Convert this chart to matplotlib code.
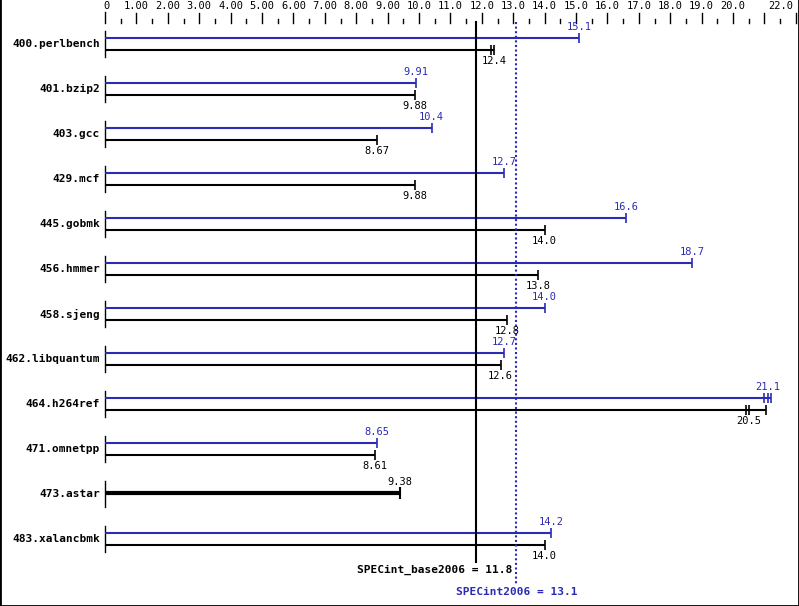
import numpy as np
import matplotlib
matplotlib.use('Agg')
import matplotlib.pyplot as plt

# Benchmarks and ratios (peak = blue, base = black)
benchmarks = ['400.perlbench', '401.bzip2', '403.gcc', '429.mcf', '445.gobmk',
              '456.hmmer', '458.sjeng', '462.libquantum', '464.h264ref',
              '471.omnetpp', '473.astar', '483.xalancbmk']
peak = [15.1, 9.91, 10.4, 12.7, 16.6, 18.7, 14.0, 12.7, 21.1, 8.65, None, 14.2]
base = [12.4, 9.88, 8.67, 9.88, 14.0, 13.8, 12.8, 12.6, 20.5, 8.61, 9.38, 14.0]
peak_labels = ['15.1', '9.91', '10.4', '12.7', '16.6', '18.7', '14.0', '12.7', '21.1', '8.65', '', '14.2']
base_labels = ['12.4', '9.88', '8.67', '9.88', '14.0', '13.8', '12.8', '12.6', '20.5', '8.61', '9.38', '14.0']
# other run results shown as extra ticks
peak_runs = {'464.h264ref': [21.0, 21.2]}
base_runs = {'400.perlbench': [12.3], '464.h264ref': [20.4, 21.05]}

base_mean = 11.8
peak_mean = 13.1

tick_vals = list(range(0, 21)) + [22]
tick_labels = ['0'] + ['%.2f' % v for v in range(1, 10)] + ['%.1f' % v for v in range(10, 21)] + ['22.0']

BLUE = '#2b2bb3'
W, H = 799, 606
X0 = 105          # pixel of value 0
PPU = 31.4        # pixels per unit

fig = plt.figure(figsize=(W / 100, H / 100), dpi=100)
ax = fig.add_axes([0, 0, 1, 1])
ax.set_xlim(-X0 / PPU, (W - X0) / PPU)
ax.set_ylim(H, 0)
ax.set_xticks([])
ax.set_yticks([])
for s in ['left', 'right', 'bottom']:
    ax.spines[s].set_linewidth(2)
ax.spines['top'].set_visible(False)

mono = 'DejaVu Sans Mono'
fs = 7.5

# top scale
for v in np.arange(0, 22.01, 0.5):
    if float(v).is_integer():
        top = 13 if v > 0 else 12
        ax.plot([v, v], [top, 23], color='black', lw=1)
    else:
        ax.plot([v, v], [19, 23], color='black', lw=1)
for v, lab in zip(tick_vals, tick_labels):
    if v == 22:
        ax.text(v - 3 / PPU, 6, lab, ha='right', va='center', fontsize=fs, family=mono)
    elif v == 0:
        ax.text(v + 1 / PPU, 6, lab, ha='center', va='center', fontsize=fs, family=mono)
    else:
        ax.text(v, 6, lab, ha='center', va='center', fontsize=fs, family=mono)

# bars
for i, name in enumerate(benchmarks):
    yb = 38 + 45 * i   # blue line
    yk = yb + 12       # black line
    ax.plot([0, 0], [yb - 7, yk + 7], color='black', lw=1)
    ax.text(-5 / PPU, (yb + yk) / 2, name, ha='right', va='center',
            fontsize=8, family=mono, fontweight='bold')
    if peak[i] is None:
        ym = (yb + yk) / 2 - 1
        ax.plot([0, base[i]], [ym, ym], color='black', lw=3, solid_capstyle='butt')
        ax.plot([base[i]], [ym], marker='|', color='black', ms=8, mew=1.5)
        ax.text(base[i], ym - 6, base_labels[i], ha='center', va='bottom',
                fontsize=fs, family=mono)
        continue
    runs_p = peak_runs.get(name, [])
    end_p = max([peak[i]] + runs_p)
    ax.plot([0, end_p], [yb, yb], color=BLUE, lw=1.5, solid_capstyle='butt')
    for r in [peak[i]] + runs_p:
        ax.plot([r], [yb], marker='|', color=BLUE, ms=7, mew=1.2)
    ax.text(peak[i], yb - 6, peak_labels[i], ha='center', va='bottom',
            fontsize=fs, family=mono, color=BLUE)
    runs_b = base_runs.get(name, [])
    end_b = max([base[i]] + runs_b)
    ax.plot([0, end_b], [yk, yk], color='black', lw=1.5, solid_capstyle='butt')
    for r in [base[i]] + runs_b:
        ax.plot([r], [yk], marker='|', color='black', ms=7, mew=1.2)
    ax.text(base[i], yk + 6, base_labels[i], ha='center', va='top',
            fontsize=fs, family=mono)

# overall means
ax.plot([base_mean, base_mean], [22, 562], color='black', lw=1.5)
ax.plot([peak_mean, peak_mean], [22, 584], color=BLUE, lw=1.5, linestyle=(0, (1, 1.2)))
ax.text(peak_mean - 4 / PPU, 570, 'SPECint_base2006 = %.1f' % base_mean, ha='right', va='center',
        fontsize=8, family=mono, fontweight='bold')
ax.text(peak_mean, 592, 'SPECint2006 = %.1f' % peak_mean, ha='center', va='center',
        fontsize=8, family=mono, fontweight='bold', color=BLUE)

fig.savefig('out.png', dpi=100)
